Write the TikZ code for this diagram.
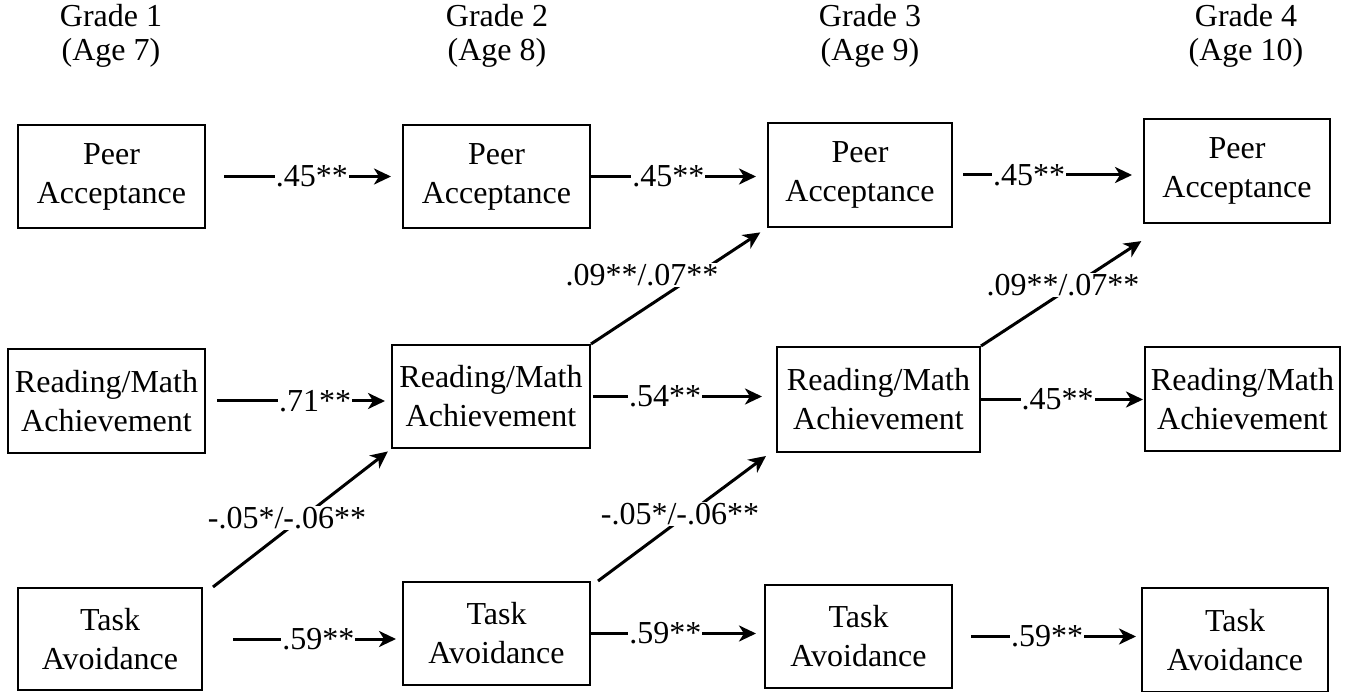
\documentclass[tikz,border=0pt]{standalone}
\usepackage{fontspec}
\setmainfont{Liberation Serif}
\usetikzlibrary{arrows.meta}
\begin{document}
\begin{tikzpicture}[x=1pt,y=-1pt,
  box/.style={draw, line width=2pt, inner sep=0pt, align=center,
    minimum width=186pt, minimum height=103pt, font=\fontsize{32}{39}\selectfont},
  head/.style={align=center, inner sep=0pt, font=\fontsize{32}{34}\selectfont},
  arr/.style={line width=3pt, -{Stealth[length=17pt,width=16pt,inset=5pt]}},
  lab/.style={fill=white, inner sep=1pt, font=\fontsize{32}{36}\selectfont},
]
\useasboundingbox (0,0) rectangle (1360,692);

% headings
\node[head] (h1) at (111,36) {Grade 1\\(Age 7)};
\node[head] (h2) at (497,36) {Grade 2\\(Age 8)};
\node[head] (h3) at (870,36) {Grade 3\\(Age 9)};
\node[head] (h4) at (1246,36) {Grade 4\\(Age 10)};

% peer acceptance
\node[box, minimum width=187pt] (pa1) at (111.5,176.5) {Peer\\Acceptance};
\node[box, minimum width=187pt] (pa2) at (496.5,176.5) {Peer\\Acceptance};
\node[box, minimum width=184pt, minimum height=104pt] (pa3) at (860,175) {Peer\\Acceptance};
\node[box, minimum width=186pt, minimum height=104pt] (pa4) at (1237,171) {Peer\\Acceptance};

% reading/math
\node[box, minimum width=197pt, minimum height=104pt] (rm1) at (106.5,401) {Reading/Math\\Achievement};
\node[box, minimum width=198pt, minimum height=103pt] (rm2) at (491,396.5) {Reading/Math\\Achievement};
\node[box, minimum width=203pt, minimum height=105pt] (rm3) at (878.5,399.5) {Reading/Math\\Achievement};
\node[box, minimum width=195pt, minimum height=104pt] (rm4) at (1242.5,399) {Reading/Math\\Achievement};

% task avoidance
\node[box, minimum width=184pt, minimum height=102pt] (ta1) at (110,639) {Task\\Avoidance};
\node[box, minimum width=187pt, minimum height=103pt] (ta2) at (496.5,633.5) {Task\\Avoidance};
\node[box, minimum width=187pt, minimum height=103pt] (ta3) at (858.5,636.5) {Task\\Avoidance};
\node[box, minimum width=186pt, minimum height=104pt] (ta4) at (1235,640) {Task\\Avoidance};

% horizontal paths
\draw[arr, shorten <=18pt, shorten >=11pt] (pa1.east) -- node[lab, pos=0.54] (l1) {.45**} (pa1.east -| pa2.west);
\draw[arr, shorten >=11pt] (pa2.east) -- node[lab, pos=0.44] (l2) {.45**} (pa2.east -| pa3.west);
\draw[arr, shorten <=10pt, shorten >=11pt] (pa3.east) -- node[lab, pos=0.40] (l3) {.45**} (pa3.east -| pa4.west);

\draw[arr, shorten <=11pt, shorten >=6pt] (rm1.east) -- node[lab, pos=0.59] (l4) {.71**} (rm1.east -| rm2.west);
\draw[arr, shorten <=2pt, shorten >=14pt] (rm2.east) -- node[lab, pos=0.40] (l5) {.54**} (rm2.east -| rm3.west);
\draw[arr, shorten >=1pt] (rm3.east) -- node[lab, pos=0.47] (l6) {.45**} (rm3.east -| rm4.west);

\draw[arr, shorten <=30pt, shorten >=6pt] (ta1.east) -- node[lab, pos=0.58] (l7) {.59**} (ta1.east -| ta2.west);
\draw[arr, shorten >=8pt] (ta2.east) -- node[lab, pos=0.43] (l8) {.59**} (ta2.east -| ta3.west);
\draw[arr, shorten <=18pt, shorten >=5pt] (ta3.east) -- node[lab, pos=0.50] (l9) {.59**} (ta3.east -| ta4.west);

% diagonal paths
\draw[arr, shorten >=8pt] (rm2.north east) -- (pa3.south west);
\draw[arr, shorten >=2pt] (rm3.north east) -- ([yshift=-16pt]pa4.south west);
\draw[arr, shorten >=4pt] ([xshift=10pt]ta1.north east) -- (rm2.south west);
\draw[arr] ([xshift=7pt]ta2.north east) -- ([xshift=-10pt,yshift=-3pt]rm3.south west);

\node[lab] (d1) at (642,275) {.09**/.07**};
\node[lab] (d2) at (1063,285) {.09**/.07**};
\node[lab] (d3) at (287,518) {-.05*/-.06**};
\node[lab] (d4) at (680,514) {-.05*/-.06**};
\end{tikzpicture}
\end{document}
